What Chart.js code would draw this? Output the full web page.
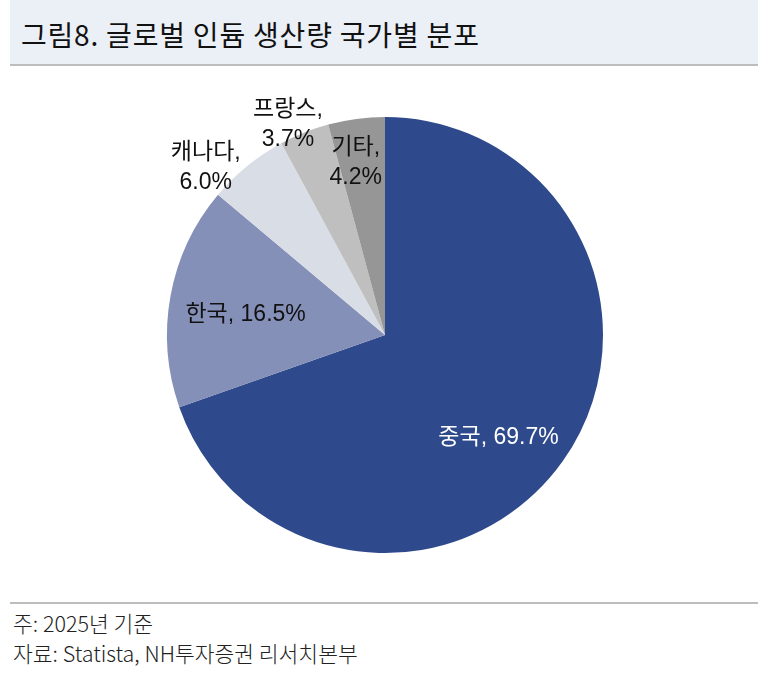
<!DOCTYPE html>
<html>
<head>
<meta charset="utf-8">
<script src="https://cdn.jsdelivr.net/npm/chart.js@4"></script>
<style>
  html, body { margin: 0; padding: 0; background: #fff; }
  body { width: 768px; height: 683px; position: relative; overflow: hidden; font-family: "Noto Sans CJK KR", "Noto Sans", sans-serif; }
  .title {
    position: absolute; left: 10px; top: 0; width: 748px; height: 66px;
    background: #EBEFF6; border-bottom: 2px solid #BDBDBD;
    font-size: 28px; line-height: 68px; padding-left: 11px; box-sizing: border-box; color: #111;
    letter-spacing: 0.8px;
  }
  .chart-wrap { position: absolute; left: 0; top: 68px; width: 770px; height: 534px; }
  .foot-line { position: absolute; left: 10px; top: 602px; width: 748px; height: 0; border-top: 2px solid #BDBDBD; }
  .note { position: absolute; left: 13px; font-size: 21.5px; line-height: 30px; font-weight: 300; color: #222; }
</style>
</head>
<body>
<div class="title">그림8. 글로벌 인듐 생산량 국가별 분포</div>
<div class="chart-wrap"><canvas id="pie-canvas"></canvas></div>
<div class="foot-line"></div>
<div class="note" style="top:608px">주: 2025년 기준</div>
<div class="note" style="top:638px">자료: Statista, NH투자증권 리서치본부</div>
<script>
document.addEventListener('DOMContentLoaded', function() {

    var countries = ['중국', '한국', '캐나다', '프랑스', '기타'];
    var shares = [69.7, 16.5, 6.0, 3.7, 4.2];

    var sliceColors = ['#2E4A8C', '#8490B8', '#D9DEE6', '#BFBFBF', '#969696'];
    var labelColors = ['#ffffff', '#111111', '#111111', '#111111', '#111111'];
    // radial position of each label as a share of the radius, plus small nudges
    var labelFactor = [0.70, 0.65, 1.17, 1.09, 0.81];
    var labelNudge = [[-11, 14], [0, 5], [-18, 30], [-9, 10], [-6, 3]];
    var twoLines = [false, false, true, true, true];

    var labelFont = '23px "Liberation Sans", "Noto Sans CJK KR", sans-serif';

    var pieLabels = {
        id: 'pieLabels',
        afterDatasetsDraw: function(chart) {
            var ctx = chart.ctx;
            var meta = chart.getDatasetMeta(0);
            ctx.save();
            ctx.font = labelFont;
            ctx.textAlign = 'center';
            ctx.textBaseline = 'middle';
            meta.data.forEach(function(arc, i) {
                var p = arc.getProps(['x', 'y', 'startAngle', 'endAngle', 'outerRadius'], true);
                var mid = (p.startAngle + p.endAngle) / 2;
                var r = p.outerRadius * labelFactor[i];
                var x = p.x + Math.cos(mid) * r + labelNudge[i][0];
                var y = p.y + Math.sin(mid) * r + labelNudge[i][1];
                var pct = shares[i].toFixed(1) + '%';
                ctx.fillStyle = labelColors[i];
                if (twoLines[i]) {
                    ctx.fillText(countries[i] + ',', x, y - 15);
                    ctx.fillText(pct, x, y + 15);
                } else {
                    ctx.fillText(countries[i] + ', ' + pct, x, y);
                }
            });
            ctx.restore();
        }
    };

    new Chart(document.getElementById('pie-canvas'), {
        type: 'pie',
        data: {
            labels: countries,
            datasets: [{
                data: shares,
                backgroundColor: sliceColors,
                borderWidth: 0
            }]
        },
        options: {
            responsive: true,
            maintainAspectRatio: false,
            animation: false,
            layout: { padding: { top: 49, bottom: 49 } },
            plugins: {
                legend: { display: false },
                tooltip: { enabled: false }
            }
        },
        plugins: [pieLabels]
    });

});
</script>
</body>
</html>
